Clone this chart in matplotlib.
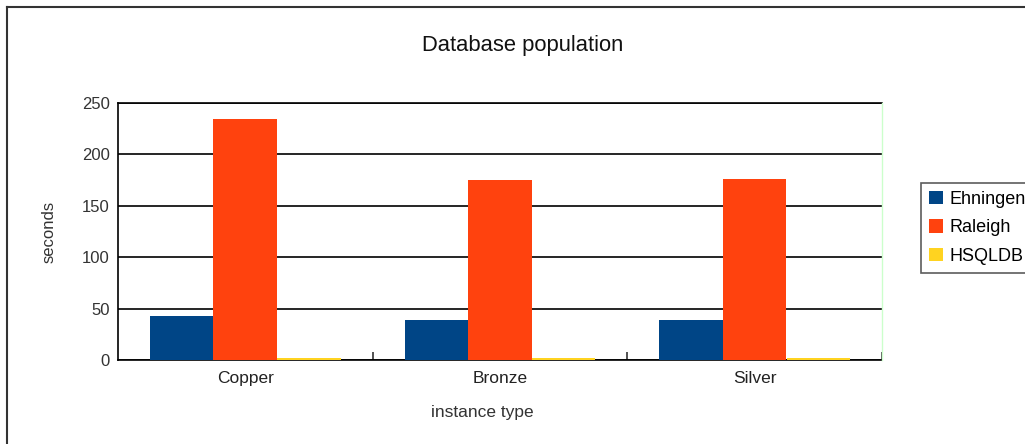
import matplotlib
matplotlib.use("Agg")
import matplotlib.pyplot as plt
from matplotlib.lines import Line2D
import numpy as np

plt.rcParams['font.family'] = ['Liberation Sans', 'DejaVu Sans']

categories = ["Copper", "Bronze", "Silver"]
series_names = ["Ehningen", "Raleigh", "HSQLDB"]
ehningen = [43, 39, 39]
raleigh = [234, 175, 176]
hsqldb = [2, 2, 2]
colors = ["#004586", "#ff420e", "#ffd320"]
yticks = [0, 50, 100, 150, 200, 250]

W, H = 1025, 444
fig = plt.figure(figsize=(W / 100, H / 100), dpi=100)
ax = fig.add_axes([118 / W, 1 - 360 / H, (882 - 118) / W, (360 - 103) / H])

x = np.arange(len(categories))
bw = 0.25
for i, (vals, name, c) in enumerate(zip([ehningen, raleigh, hsqldb], series_names, colors)):
    ax.bar(x + (i - 1) * bw, vals, bw, color=c, label=name, zorder=3)

ax.set_xlim(-0.5, len(categories) - 0.5)
ax.set_ylim(0, 250)
ax.set_yticks(yticks)
ax.set_yticklabels([str(t) for t in yticks], fontsize=12, color="#333333")
ax.yaxis.grid(True, color="black", linewidth=1.2, zorder=1)
ax.tick_params(axis='y', length=0, pad=6)

ax.set_xticks(x)
ax.set_xticklabels(categories, fontsize=12.5, color="#222222")
ax.tick_params(axis='x', which='major', length=0, pad=8)
ax.set_xticks(np.arange(0.5, len(categories), 1.0), minor=True)
ax.tick_params(axis='x', which='minor', length=6, width=1.2, direction='in', color='#333333')

for s in ['left', 'bottom', 'top']:
    ax.spines[s].set_color('black')
    ax.spines[s].set_linewidth(1.2)
    ax.spines[s].set_zorder(2)
ax.spines['right'].set_color('#ccffcc')
ax.spines['right'].set_linewidth(1)

ax.set_ylabel("seconds", fontsize=12, color="#333333", labelpad=18)
fig.text(482 / W, 1 - 412 / H, "instance type", fontsize=12.5, ha='center', va='center', color="#333333")

fig.text(523 / W, 1 - 45 / H, "Database population", fontsize=15.8, ha='center', va='center', color="#111111")

leg = ax.legend(loc='upper left', bbox_to_anchor=(921 / W, 1 - 183 / H), bbox_transform=fig.transFigure,
                fontsize=13, frameon=True, fancybox=False, handlelength=0.75, handleheight=0.75,
                handletextpad=0.4, borderpad=0.45, labelspacing=0.62, borderaxespad=0)
leg.get_frame().set_edgecolor('#333333')
leg.get_frame().set_linewidth(1.2)

fig.add_artist(Line2D([7 / W, 7 / W], [0, 1 - 7 / H], transform=fig.transFigure, color='#333333', linewidth=1.5))
fig.add_artist(Line2D([7 / W, 1], [1 - 7 / H, 1 - 7 / H], transform=fig.transFigure, color='#333333', linewidth=1.5))

fig.savefig("out.png", dpi=100)
